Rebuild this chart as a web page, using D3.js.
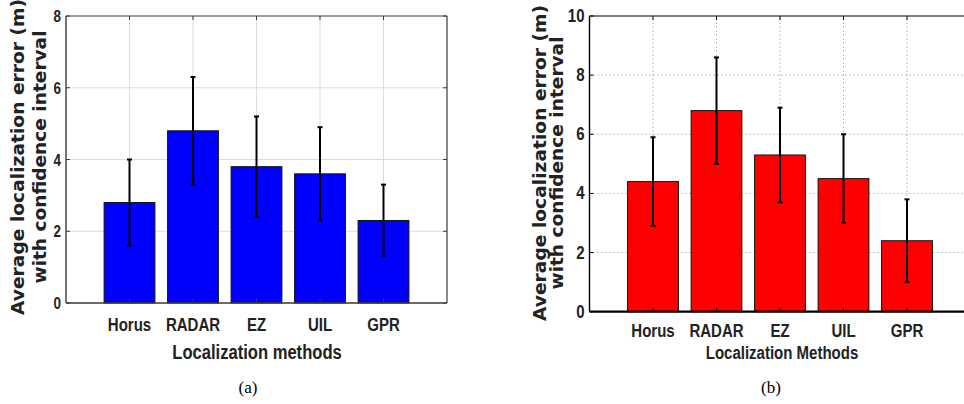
<!DOCTYPE html>
<html>
<head>
<meta charset="utf-8">
<script src="https://cdn.jsdelivr.net/npm/d3@7"></script>
<style>
  body { margin: 0; background: #fff; }
  svg { display: block; }
</style>
</head>
<body>
<svg id="fig" width="964" height="404"></svg>
<script>
// methods on the x axis (same for both panels)
var methods = ["Horus", "RADAR", "EZ", "UIL", "GPR"];

// panel (a): mean error and confidence interval
var meanA = [2.8, 4.8, 3.8, 3.6, 2.3];
var lowA  = [1.6, 3.3, 2.4, 2.3, 1.3];
var highA = [4.0, 6.3, 5.2, 4.9, 3.3];
var yTicksA = [0, 2, 4, 6, 8];

// panel (b)
var meanB = [4.4, 6.8, 5.3, 4.5, 2.4];
var lowB  = [2.9, 5.0, 3.7, 3.0, 1.0];
var highB = [5.9, 8.6, 6.9, 6.0, 3.8];
var yTicksB = [0, 2, 4, 6, 8, 10];

var sans = "'Liberation Sans', Arial, sans-serif";
var wide = "'DejaVu Sans', sans-serif";
var squeeze = 0.79; // no narrow font installed, so scale glyphs horizontally

var svg = d3.select("#fig");

// bold condensed text placed at (x, y)
function narrowText(sel, x, y, size, anchor, str) {
    return sel.append("text")
        .attr("transform", "translate(" + x + "," + y + ") scale(" + squeeze + ",1)")
        .attr("text-anchor", anchor)
        .style("font-family", sans).style("font-weight", "bold")
        .style("font-size", size + "px").attr("fill", "#222")
        .text(str);
}

function drawPanel(cfg) {
    var g = svg.append("g");
    var x = d3.scaleLinear().domain([0, 6]).range([cfg.left, cfg.left + 381]);
    var y = d3.scaleLinear().domain([0, cfg.ymax]).range([cfg.bottom, 16]);
    var barW = x(0.8) - x(0);
    var data = methods.map(function(m, i){
        return {name: m, pos: i + 1, mean: cfg.mean[i], low: cfg.low[i], high: cfg.high[i]};
    });

    // grid
    var grid = g.append("g").attr("class", "grid");
    grid.selectAll(".gy").data(cfg.yTicks.filter(function(t){ return t > 0 && t < cfg.ymax; }))
        .enter().append("line")
        .attr("x1", x(0)).attr("x2", x(6))
        .attr("y1", function(d){ return y(d); }).attr("y2", function(d){ return y(d); })
        .attr("stroke", cfg.gridColor).attr("stroke-width", 1)
        .attr("stroke-dasharray", cfg.gridDash);
    grid.selectAll(".gx").data(data).enter().append("line")
        .attr("x1", function(d){ return x(d.pos); }).attr("x2", function(d){ return x(d.pos); })
        .attr("y1", y(0)).attr("y2", y(cfg.ymax))
        .attr("stroke", cfg.gridColor).attr("stroke-width", 1)
        .attr("stroke-dasharray", cfg.gridDash);

    // bars
    g.selectAll(".bar").data(data).enter().append("rect")
        .attr("x", function(d){ return x(d.pos) - barW / 2; })
        .attr("width", barW)
        .attr("y", function(d){ return y(d.mean); })
        .attr("height", function(d){ return y(0) - y(d.mean); })
        .attr("fill", cfg.fill).attr("stroke", "#111").attr("stroke-width", 1);

    // error bars
    var eb = g.selectAll(".err").data(data).enter().append("g");
    eb.append("line")
        .attr("x1", function(d){ return x(d.pos); }).attr("x2", function(d){ return x(d.pos); })
        .attr("y1", function(d){ return y(d.low); }).attr("y2", function(d){ return y(d.high); })
        .attr("stroke", "#000").attr("stroke-width", 2);
    ["low", "high"].forEach(function(k){
        eb.append("line")
            .attr("x1", function(d){ return x(d.pos) - 2.5; }).attr("x2", function(d){ return x(d.pos) + 2.5; })
            .attr("y1", function(d){ return y(d[k]); }).attr("y2", function(d){ return y(d[k]); })
            .attr("stroke", "#000").attr("stroke-width", 2);
    });

    // frame
    g.append("line").attr("x1", x(0)).attr("x2", x(6)).attr("y1", y(cfg.ymax)).attr("y2", y(cfg.ymax))
        .attr("stroke", cfg.frame).attr("stroke-width", 1.2);
    g.append("line").attr("x1", x(0)).attr("x2", x(0)).attr("y1", y(0)).attr("y2", y(cfg.ymax))
        .attr("stroke", cfg.frame).attr("stroke-width", 1.4);
    g.append("line").attr("x1", x(6)).attr("x2", x(6)).attr("y1", y(0)).attr("y2", y(cfg.ymax))
        .attr("stroke", cfg.frame).attr("stroke-width", 1.2);
    g.append("line").attr("x1", x(0)).attr("x2", x(6)).attr("y1", y(0)).attr("y2", y(0))
        .attr("stroke", cfg.frame).attr("stroke-width", cfg.bottomW);

    // inward tick marks
    var ticks = g.append("g");
    data.forEach(function(d){
        ticks.append("line").attr("x1", x(d.pos)).attr("x2", x(d.pos))
            .attr("y1", y(cfg.ymax)).attr("y2", y(cfg.ymax) + 4)
            .attr("stroke", cfg.frame).attr("stroke-width", 1);
        ticks.append("line").attr("x1", x(d.pos)).attr("x2", x(d.pos))
            .attr("y1", y(0)).attr("y2", y(0) - 4)
            .attr("stroke", cfg.frame).attr("stroke-width", 1);
    });
    cfg.yTicks.forEach(function(t){
        ticks.append("line").attr("x1", x(0)).attr("x2", x(0) + 4)
            .attr("y1", y(t)).attr("y2", y(t)).attr("stroke", cfg.frame).attr("stroke-width", 1);
        ticks.append("line").attr("x1", x(6)).attr("x2", x(6) - 4)
            .attr("y1", y(t)).attr("y2", y(t)).attr("stroke", cfg.frame).attr("stroke-width", 1);
    });

    // tick labels
    cfg.yTicks.forEach(function(t){
        narrowText(g, x(0) - 5, y(t) + 6, cfg.tickSize, "end", t);
    });
    data.forEach(function(d){
        narrowText(g, x(d.pos), cfg.xLabelY, 19, "middle", d.name);
    });

    // axis titles
    narrowText(g, cfg.xTitleX, 359, cfg.xTitleSize, "middle", cfg.xTitle);
    var yl = [["Average localization error (m)", cfg.yl1, 316], ["with confidence interval", cfg.yl2, 253]];
    yl.forEach(function(l){
        g.append("text")
            .attr("transform", "translate(" + l[1] + "," + cfg.yMid + ") rotate(-90)")
            .attr("text-anchor", "middle")
            .attr("textLength", l[2]).attr("lengthAdjust", "spacingAndGlyphs")
            .style("font-family", wide).style("font-weight", "bold")
            .style("font-size", "18px").attr("fill", "#222")
            .text(l[0]);
    });

    // caption
    g.append("text")
        .attr("x", cfg.capX).attr("y", 393)
        .attr("text-anchor", "middle")
        .style("font-family", "'Liberation Serif', 'Times New Roman', serif")
        .style("font-size", "17px").attr("fill", "#000")
        .text(cfg.caption);
}

drawPanel({
    left: 66, bottom: 303, ymax: 8, yTicks: yTicksA,
    mean: meanA, low: lowA, high: highA,
    fill: "#0000ff", gridColor: "#dcdcdc", gridDash: null,
    frame: "#3a3a3a", bottomW: 1.6, tickSize: 17, xLabelY: 331,
    xTitle: "Localization methods", xTitleX: 257, xTitleSize: 21,
    yl1: 24, yl2: 46, yMid: 157, capX: 248, caption: "(a)"
});

drawPanel({
    left: 589.5, bottom: 311.7, ymax: 10, yTicks: yTicksB,
    mean: meanB, low: lowB, high: highB,
    fill: "#ff0000", gridColor: "#888", gridDash: "1,3",
    frame: "#000", bottomW: 2.2, tickSize: 19, xLabelY: 337,
    xTitle: "Localization Methods", xTitleX: 782, xTitleSize: 19,
    yl1: 546, yl2: 563, yMid: 163, capX: 771, caption: "(b)"
});
</script>
</body>
</html>
